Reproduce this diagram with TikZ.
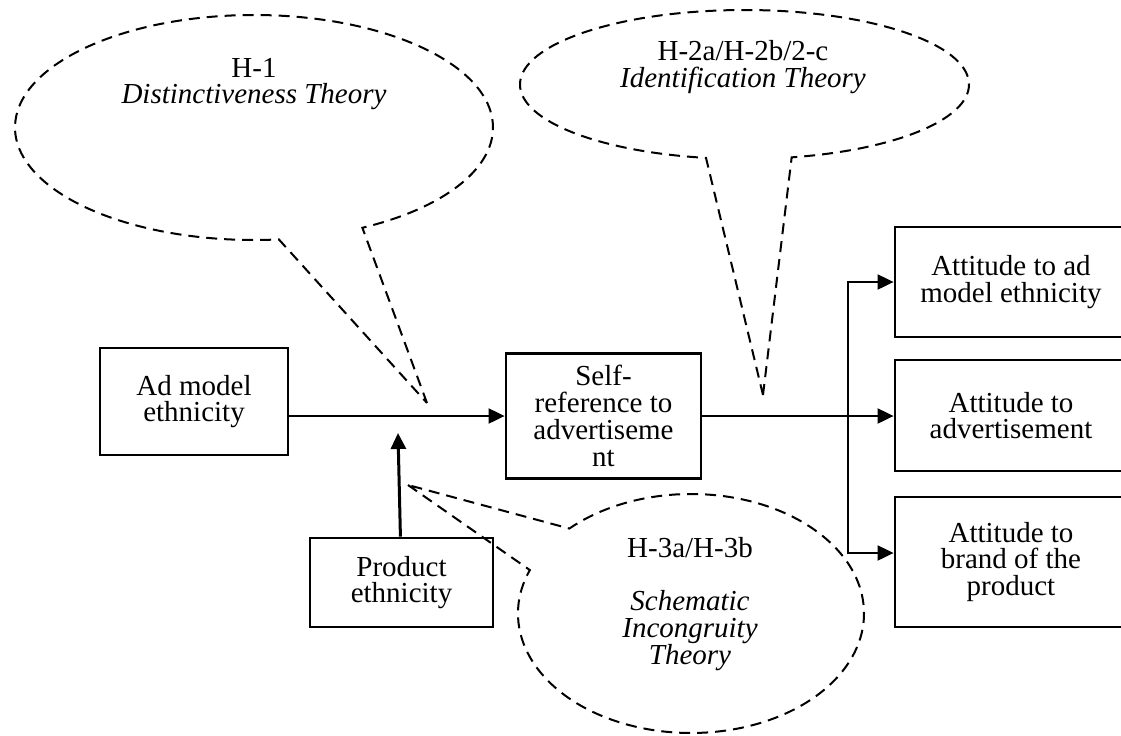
\documentclass[tikz,border=0pt]{standalone}
\usepackage{fontspec}
\setmainfont{Liberation Serif}
\usetikzlibrary{arrows.meta,shapes.callouts}

\begin{document}
\begin{tikzpicture}[
        x=0.5pt, y=-0.5pt,
        >={Triangle[length=8pt,width=7.5pt]},
        every node/.style={font=\fontsize{14.5pt}{13.4pt}\selectfont},
        box/.style={draw, line width=1.4pt, align=center, inner sep=2pt},
        theory/.style={align=center, inner sep=0pt},
        bubble/.style={ellipse callout, draw, dash pattern=on 5.5pt off 3.5pt, line width=1pt, inner sep=0pt},
        rel/.style={->, line width=1pt}
    ]
        \useasboundingbox (0,0) rectangle (1121,735);

        \node[box, minimum width=94pt, minimum height=53.5pt] (ad-model) at (194, 401.5) {Ad model\\ethnicity};
        \node[box, minimum width=97.5pt, minimum height=62.5pt] (self-ref) at (603.5, 416) {Self-\\reference to\\advertiseme\\nt};
        \node[box, minimum width=91.5pt, minimum height=44.5pt] (product) at (401.5, 582.5) {Product\\ethnicity};

        \node[box, minimum width=116pt, minimum height=55pt] (att-model) at (1011, 282) {Attitude to ad\\model ethnicity};
        \node[box, minimum width=116pt, minimum height=55.5pt] (att-ad) at (1011, 415.5) {Attitude to\\advertisement};
        \node[box, minimum width=116pt, minimum height=65pt] (att-brand) at (1011, 562) {Attitude to\\brand of the\\product};

        \coordinate (h1-tip) at (427, 403);
        \coordinate (h2-tip) at (763, 395);
        \coordinate (h3-tip) at (408, 485);
        \coordinate (meet) at (398, 433);
        \coordinate (split) at (848, 416);

        \node[bubble, minimum width=239pt, minimum height=112.5pt, callout absolute pointer={(h1-tip)}, callout pointer arc=21] (h1-bubble) at (254, 127.5) {};
        \node[bubble, minimum width=224.5pt, minimum height=74.5pt, callout absolute pointer={(h2-tip)}, callout pointer arc=22] (h2-bubble) at (744.5, 84.5) {};
        \node[bubble, minimum width=173pt, minimum height=119.5pt, callout absolute pointer={(h3-tip)}, callout pointer arc=24] (h3-bubble) at (691, 613.5) {};

        \node[theory] (h1-text) at (254, 84) {H-1\\\textit{Distinctiveness Theory}};
        \node[theory] (h2-text) at (743, 67) {H-2a/H-2b/2-c\\\textit{Identification Theory}};
        \node[theory] (h3-text) at (690, 604) {H-3a/H-3b\\[13.4pt]\textit{Schematic}\\\textit{Incongruity}\\\textit{Theory}};

        \draw[rel] (ad-model.east |- self-ref.west) -- (self-ref.west);
        \draw[rel, line width=1.5pt] (product) -- (meet);
        \draw[rel] (self-ref.east) -- (self-ref.east -| att-ad.west);
        \draw[rel] (split) |- (att-model.west);
        \draw[rel] (split) |- ([yshift=4.5pt]att-brand.west);
    \end{tikzpicture}
\end{document}
